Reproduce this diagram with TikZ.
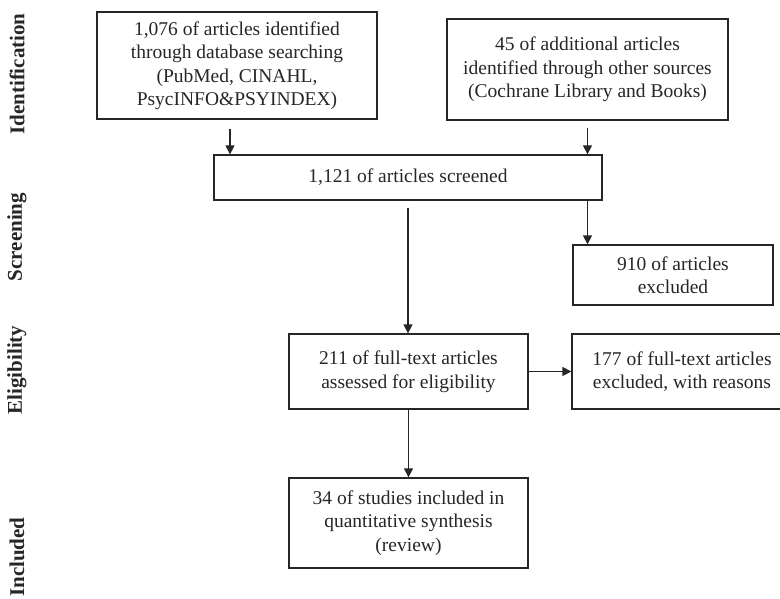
\documentclass[tikz,border=0pt]{standalone}
\usepackage{fontspec}
\setmainfont{Liberation Serif}
\usetikzlibrary{arrows.meta, positioning}

\begin{document}
\begin{tikzpicture}[> = {Triangle[length=9pt, width=9pt]}, x=1pt, y=-1pt, line width=1.3pt, black!85,
	flowbox/.style={draw, align=center, inner sep=0pt, font=\fontsize{19.5}{23.5}\selectfont},
	phase/.style={rotate=90, font=\fontsize{21}{25}\selectfont\bfseries}]
	\useasboundingbox (0,0) rectangle (780,598);
	
	% phases on the left
	\node [phase] (ident) at (17,74) {Identification};
	\node [phase] (screen) at (17,237) {Screening};
	\node [phase] (elig) at (17,370) {Eligibility};
	\node [phase] (incl) at (17,557) {Included};
	
	% identification
	\node [flowbox, minimum width=280pt, minimum height=107pt] (db) at (237,65.5)
	{1,076 of articles identified\\through database searching\\(PubMed, CINAHL,\\PsycINFO\&PSYINDEX)};
	\node [flowbox, minimum width=281pt, minimum height=101pt] (other) at (587.5,69.5)
	{45 of additional articles\\identified through other sources\\(Cochrane Library and Books)};
	
	% screening
	\node [flowbox, minimum width=388pt, minimum height=45pt] (screened) at (408,177.5)
	{1,121 of articles screened};
	\node [flowbox, minimum width=200pt, minimum height=60pt] (excl) at (673,275)
	{910 of articles\\excluded};
	
	% eligibility
	\node [flowbox, minimum width=239pt, minimum height=75pt] (full) at (408.5,371.5)
	{211 of full-text articles\\assessed for eligibility};
	\node [flowbox, minimum width=220pt, minimum height=75pt] (fullexcl) at (682,371.5)
	{177 of full-text articles\\excluded, with reasons};
	
	% included
	\node [flowbox, minimum width=239pt, minimum height=90pt] (studies) at (408.5,523)
	{34 of studies included in\\quantitative synthesis\\(review)};
	
	% arrows
	\draw [->] ([shift={(-7pt,-9pt)}]db.south) -- ([xshift=-7pt]db.south |- screened.north);
	\draw [->] ([yshift=-7pt]other.south) -- (other.south |- screened.north);
	\draw [->] (other.south |- screened.south) -- (other.south |- excl.north);
	\draw [->] ([yshift=-7pt]screened.south) -- (screened.south |- full.north);
	\draw [->] (full.east) -- (full.east -| fullexcl.west);
	\draw [->] (full.south) -- (studies.north);
	
\end{tikzpicture}
\end{document}
